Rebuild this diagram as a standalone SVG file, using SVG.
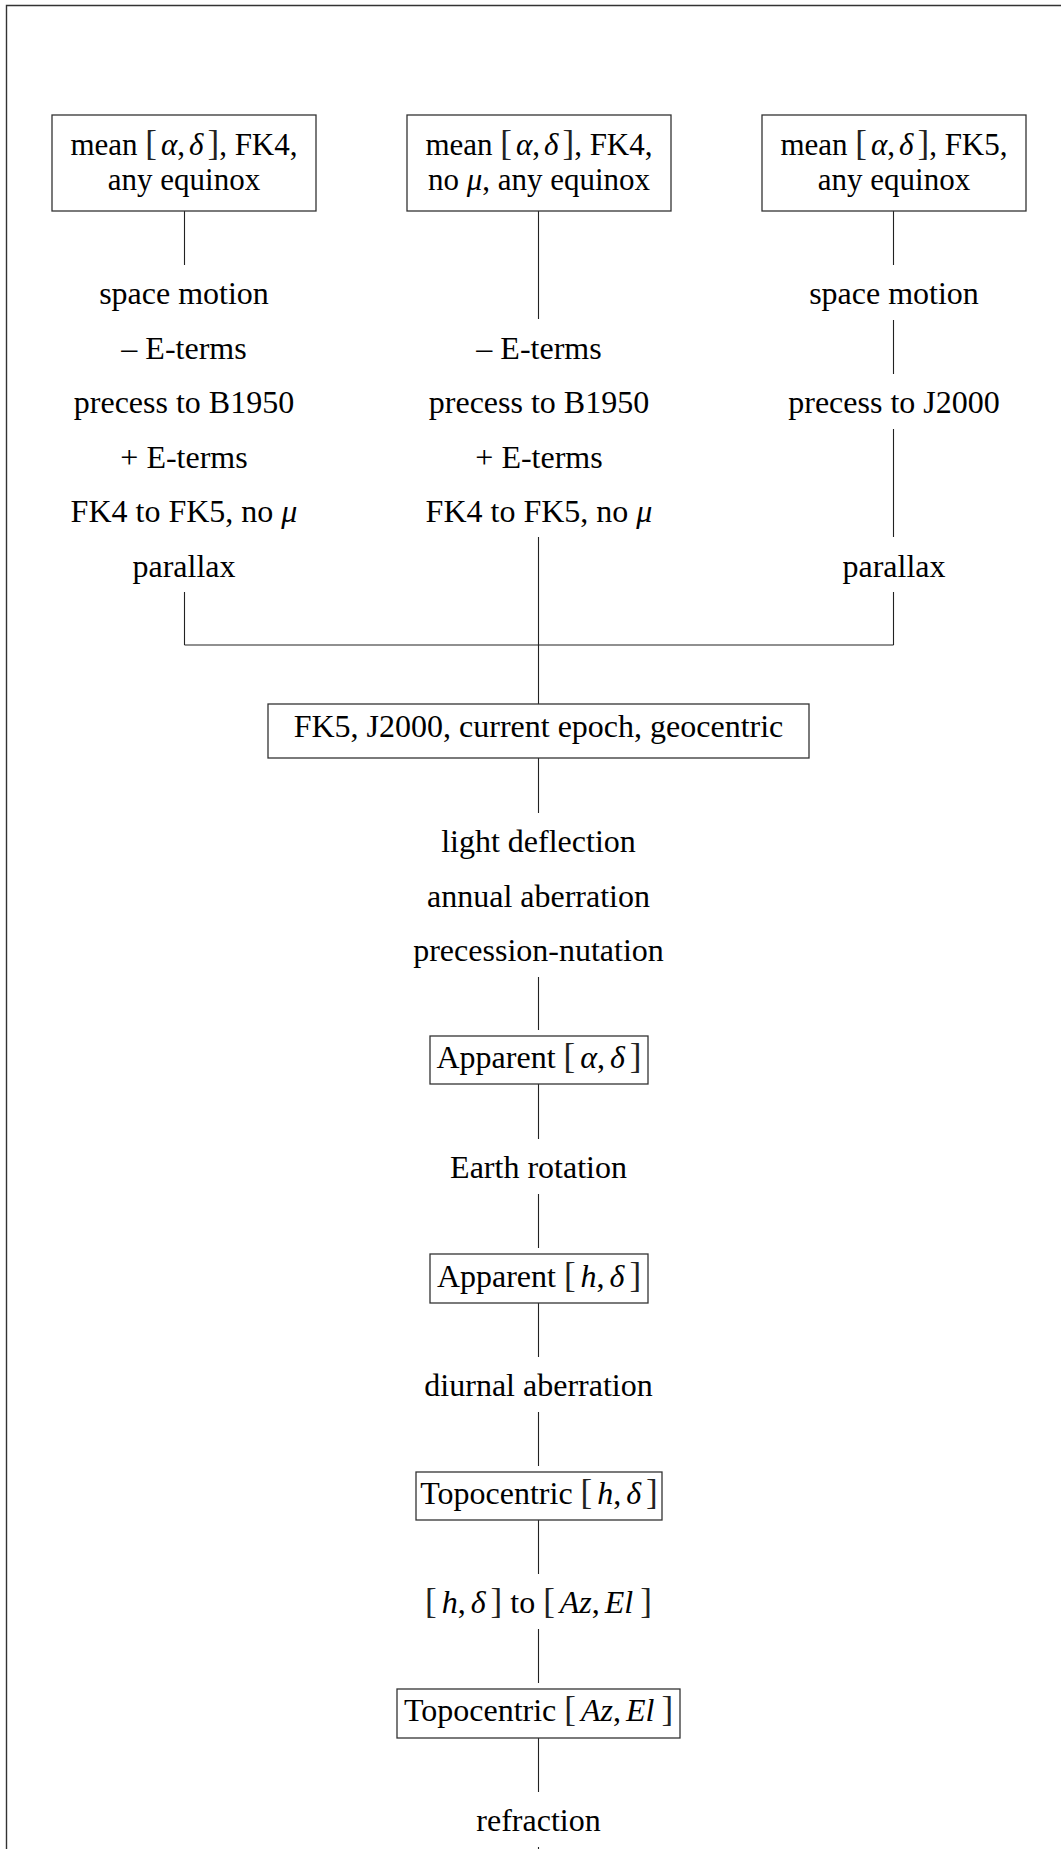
<svg xmlns="http://www.w3.org/2000/svg" width="1061" height="1849" viewBox="0 0 1061 1849">
<style>
text{font-family:"Liberation Serif","Times New Roman",serif;font-size:32px;fill:#000;text-anchor:middle}
.t{font-size:31px}
.i{font-style:italic}
.b{font-size:35px;fill:#222}
.box{fill:#fff;stroke:#333;stroke-width:1.3}
.c{stroke:#222;stroke-width:1.1;fill:none}
.frame{stroke:#333;stroke-width:1.4;fill:none}
</style>
<rect width="1061" height="1849" fill="#fff"/>
<path class="frame" d="M6.5 1849V5.5H1061"/>
<g id="connectors">
<path class="c" d="M184.5 211V265M184.5 592V645M893.5 211V265M893.5 320V374M893.5 429V537M893.5 592V645M184.5 645H893.5"/>
<path class="c" d="M538.5 211V319M538.5 537V704M538.5 758V813M538.5 977V1030M538.5 1084V1139M538.5 1194V1248M538.5 1303V1357M538.5 1412V1466M538.5 1520V1574M538.5 1629V1683M538.5 1738V1792M538.5 1847V1849"/>
</g>
<g id="n-fk4">
<rect class="box" x="52" y="115" width="264" height="96"/>
<text class="t" x="184" y="155">mean <tspan class="b">[</tspan><tspan class="i" dx="4">α</tspan>,<tspan class="i" dx="4">δ</tspan><tspan class="b" dx="4">]</tspan>, FK4,</text>
<text class="t" x="184" y="190">any equinox</text>
</g>
<g id="n-fk4nomu">
<rect class="box" x="407" y="115" width="264" height="96"/>
<text class="t" x="539" y="155">mean <tspan class="b">[</tspan><tspan class="i" dx="4">α</tspan>,<tspan class="i" dx="4">δ</tspan><tspan class="b" dx="4">]</tspan>, FK4,</text>
<text class="t" x="539" y="190">no <tspan class="i">μ</tspan>, any equinox</text>
</g>
<g id="n-fk5">
<rect class="box" x="762" y="115" width="264" height="96"/>
<text class="t" x="894" y="155">mean <tspan class="b">[</tspan><tspan class="i" dx="4">α</tspan>,<tspan class="i" dx="4">δ</tspan><tspan class="b" dx="4">]</tspan>, FK5,</text>
<text class="t" x="894" y="190">any equinox</text>
</g>
<g id="l-left">
<text x="184" y="304">space motion</text>
<text x="184" y="358.5">– E-terms</text>
<text x="184" y="413">precess to B1950</text>
<text x="184" y="467.5">+ E-terms</text>
<text x="184" y="522">FK4 to FK5, no <tspan class="i">μ</tspan></text>
<text x="184" y="576.5">parallax</text>
</g>
<g id="l-mid">
<text x="539" y="358.5">– E-terms</text>
<text x="539" y="413">precess to B1950</text>
<text x="539" y="467.5">+ E-terms</text>
<text x="539" y="522">FK4 to FK5, no <tspan class="i">μ</tspan></text>
</g>
<g id="l-right">
<text x="894" y="304">space motion</text>
<text x="894" y="413">precess to J2000</text>
<text x="894" y="576.5">parallax</text>
</g>
<g id="n-geo">
<rect class="box" x="268" y="704" width="541" height="54"/>
<text x="538.5" y="737">FK5, J2000, current epoch, geocentric</text>
</g>
<g id="l-geo">
<text x="538.5" y="852">light deflection</text>
<text x="538.5" y="906.5">annual aberration</text>
<text x="538.5" y="961">precession-nutation</text>
</g>
<g id="n-app-ad">
<rect class="box" x="430" y="1036" width="218" height="48"/>
<text x="539" y="1068">Apparent <tspan class="b">[</tspan><tspan class="i" dx="5">α</tspan>,<tspan class="i" dx="5">δ</tspan><tspan class="b" dx="5">]</tspan></text>
</g>
<g id="l-earth">
<text x="538.5" y="1178">Earth rotation</text>
</g>
<g id="n-app-hd">
<rect class="box" x="430" y="1254" width="218" height="49"/>
<text x="539" y="1287">Apparent <tspan class="b">[</tspan><tspan class="i" dx="5">h</tspan>,<tspan class="i" dx="5">δ</tspan><tspan class="b" dx="5">]</tspan></text>
</g>
<g id="l-diurnal">
<text x="538.5" y="1396">diurnal aberration</text>
</g>
<g id="n-topo-hd">
<rect class="box" x="416" y="1472" width="246" height="48"/>
<text x="539" y="1504">Topocentric <tspan class="b">[</tspan><tspan class="i" dx="5">h</tspan>,<tspan class="i" dx="5">δ</tspan><tspan class="b" dx="5">]</tspan></text>
</g>
<g id="l-hd2azel">
<text x="538.5" y="1613"><tspan class="b">[</tspan><tspan class="i" dx="5">h</tspan>,<tspan class="i" dx="5">δ</tspan><tspan class="b" dx="5">]</tspan> to <tspan class="b">[</tspan><tspan class="i" dx="5">Az</tspan>,<tspan class="i" dx="5">El</tspan><tspan class="b" dx="7">]</tspan></text>
</g>
<g id="n-topo-azel">
<rect class="box" x="397" y="1689" width="283" height="49"/>
<text x="538.5" y="1721">Topocentric <tspan class="b">[</tspan><tspan class="i" dx="5">Az</tspan>,<tspan class="i" dx="5">El</tspan><tspan class="b" dx="7">]</tspan></text>
</g>
<g id="l-refr">
<text x="538.5" y="1831">refraction</text>
</g>
</svg>
